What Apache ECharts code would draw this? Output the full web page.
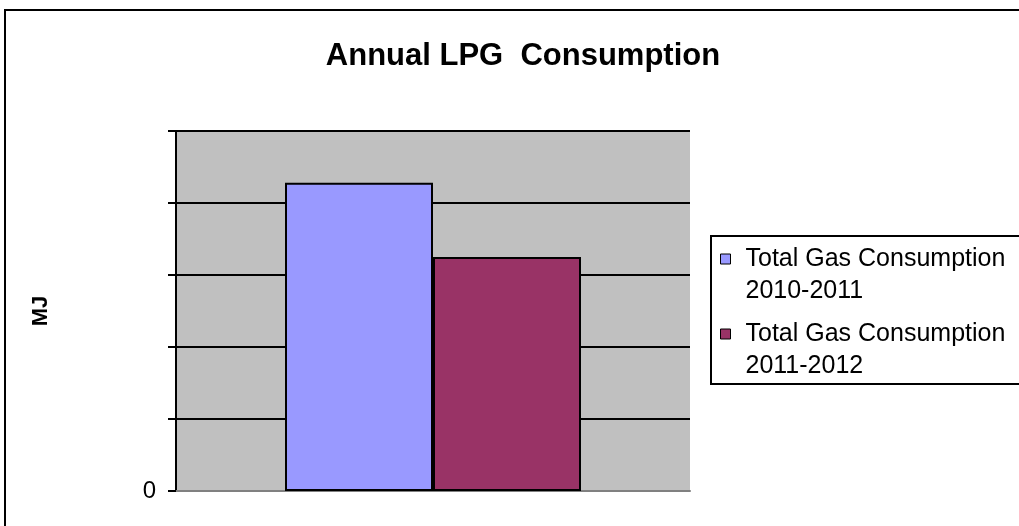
<!DOCTYPE html>
<html>
<head>
<meta charset="utf-8">
<script src="https://cdn.jsdelivr.net/npm/echarts@6/dist/echarts.min.js"></script>
<style>
  html, body { margin: 0; padding: 0; background: #fff; }
  #chart { width: 1019px; height: 526px; }
</style>
</head>
<body>
<div id="chart"></div>
<script>
// Annual LPG consumption, MJ
const categories = ['Annual'];
const seriesNames = ['Total Gas Consumption\n2010-2011', 'Total Gas Consumption\n2011-2012'];
const consumption2010_2011 = [42800];
const consumption2011_2012 = [32500];
const seriesColors = ['#9999FF', '#993366'];
const yMin = 0;
const yMax = 50000;
const yStep = 10000;

const FONT = 'Liberation Sans, Arial, sans-serif';
const chart = echarts.init(document.getElementById('chart'), null, { renderer: 'canvas' });

const barStyle = (color) => ({ color: color, borderColor: '#000', borderWidth: 2 });

// legend key: small square sitting beside the first text line; the trailing
// moveTo widens/heightens the icon box so the text starts further right
const LEGEND_ICON = 'path://M0,0L10,0L10,10L0,10Z M20,42';

chart.setOption({
  animation: false,
  backgroundColor: '#fff',
  graphic: [{
    type: 'rect',
    shape: { x: 5, y: 10, width: 1100, height: 600 },
    style: { fill: 'none', stroke: '#000', lineWidth: 2 },
    silent: true, z: 100
  }],
  title: {
    text: 'Annual LPG  Consumption',
    left: 518, top: 36, textAlign: 'center',
    textStyle: { fontFamily: FONT, fontWeight: 'bold', fontSize: 31, color: '#000' }
  },
  legend: {
    orient: 'vertical',
    left: 711, top: 236,
    padding: [7, 40, 2, 9],
    itemGap: 11,
    itemWidth: 20, itemHeight: 42,
    icon: LEGEND_ICON,
    borderColor: '#000', borderWidth: 2,
    itemStyle: { borderColor: '#000', borderWidth: 1 },
    textStyle: { fontFamily: FONT, fontSize: 25, color: '#000', lineHeight: 32 },
    data: seriesNames
  },
  grid: { left: 176, right: 329, top: 131, bottom: 35, show: true, backgroundColor: '#C0C0C0', borderWidth: 0 },
  xAxis: {
    type: 'category',
    data: categories,
    axisLine: { lineStyle: { color: '#808080', width: 2 } },
    axisTick: { show: false },
    axisLabel: { show: false }
  },
  yAxis: {
    type: 'value',
    min: yMin, max: yMax, interval: yStep,
    name: 'MJ',
    nameLocation: 'middle',
    nameGap: 124,
    nameRotate: 90,
    nameTextStyle: { fontFamily: FONT, fontWeight: 'bold', fontSize: 22, color: '#000' },
    axisLine: { show: true, lineStyle: { color: '#000', width: 2 } },
    axisTick: { show: true, length: 8, lineStyle: { color: '#000', width: 2 } },
    axisLabel: {
      margin: 20,
      fontFamily: FONT, fontSize: 24, color: '#000',
      formatter: (v) => (v === 0 ? '0' : '')
    },
    splitLine: { show: true, lineStyle: { color: '#000', width: 2 } }
  },
  series: [
    { name: seriesNames[0], type: 'bar', data: consumption2010_2011, barWidth: 148, barGap: '0%', itemStyle: barStyle(seriesColors[0]) },
    { name: seriesNames[1], type: 'bar', data: consumption2011_2012, barWidth: 148, barGap: '0%', itemStyle: barStyle(seriesColors[1]) }
  ]
});
</script>
</body>
</html>
